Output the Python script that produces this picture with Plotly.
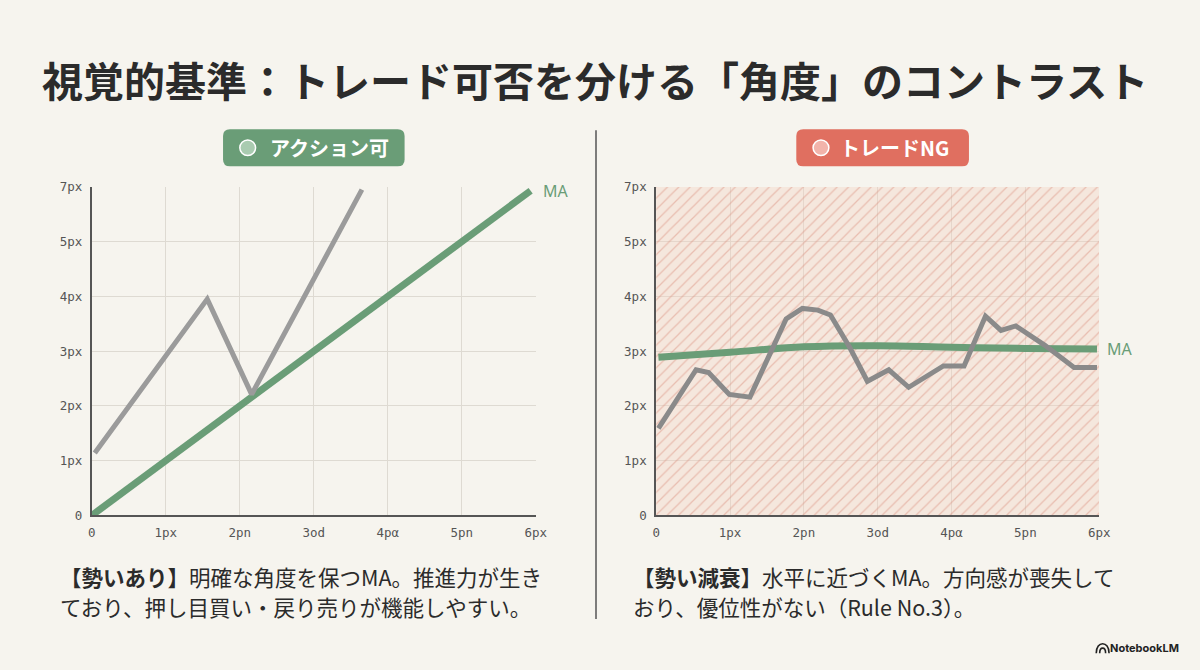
import plotly.graph_objects as go

# --- data ---
y_tick_vals = [0, 1, 2, 3, 4, 5, 6]
y_tick_text = ['0', '1px', '2px', '3px', '4px', '5px', '7px']
x_tick_vals = [0, 1, 2, 3, 4, 5, 6]
x_tick_text = ['0', '1px', '2pn', '3od', '4pα', '5pn', '6px']

left_price_x = [0.04, 1.56, 2.16, 3.65]
left_price_y = [1.14, 3.95, 2.21, 5.95]
left_ma_x = [0.0, 5.93]
left_ma_y = [0.0, 5.93]

right_price_x = [0.03, 0.54, 0.71, 0.99, 1.27, 1.61, 1.76, 1.98, 2.19, 2.36, 2.62, 2.86,
                 3.15, 3.42, 3.89, 4.17, 4.46, 4.67, 4.87, 5.26, 5.66, 5.97]
right_price_y = [1.59, 2.66, 2.61, 2.21, 2.16, 3.14, 3.59, 3.78, 3.75, 3.66, 3.07, 2.45,
                 2.66, 2.34, 2.73, 2.73, 3.64, 3.38, 3.46, 3.11, 2.70, 2.70]
right_ma_x = [0.03, 1.0, 2.0, 3.0, 4.0, 5.0, 5.97]
right_ma_y = [2.89, 2.98, 3.08, 3.10, 3.07, 3.05, 3.04]

axis_max = 6

W, H = 1200, 670
BG = '#f6f4ee'
GREEN = '#6a9d77'
RED = '#e06f60'
INK = '#2b2b2b'
JP = 'Noto Sans CJK JP'
MONO = 'DejaVu Sans Mono'


def px(x):
    return x / W


def py(y):
    return 1 - y / H


def rounded_box(x0, y0, x1, y1, r):
    # path in paper coords, built from pixel positions
    pts = [
        f"M{px(x0 + r)},{py(y0)}",
        f"L{px(x1 - r)},{py(y0)}",
        f"Q{px(x1)},{py(y0)} {px(x1)},{py(y0 + r)}",
        f"L{px(x1)},{py(y1 - r)}",
        f"Q{px(x1)},{py(y1)} {px(x1 - r)},{py(y1)}",
        f"L{px(x0 + r)},{py(y1)}",
        f"Q{px(x0)},{py(y1)} {px(x0)},{py(y1 - r)}",
        f"L{px(x0)},{py(y0 + r)}",
        f"Q{px(x0)},{py(y0)} {px(x0 + r)},{py(y0)}",
        "Z",
    ]
    return " ".join(pts)


def arch(x0, x1, yb, yt):
    return (f"M{px(x0)},{py(yb)} C{px(x0)},{py(yt)} {px(x1)},{py(yt)} {px(x1)},{py(yb)}")


fig = go.Figure()

# right panel hatched background
fig.add_trace(go.Bar(
    x=[axis_max / 2], y=[axis_max], width=[axis_max],
    xaxis='x2', yaxis='y2',
    marker=dict(
        color='rgba(244,205,188,0.35)',
        line=dict(width=0),
        pattern=dict(shape='/', fgcolor='#dc9484', size=8, solidity=0.16,
                     bgcolor='rgba(244,205,188,0.35)'),
    ),
    hoverinfo='skip',
))

fig.add_trace(go.Scatter(x=left_ma_x, y=left_ma_y, mode='lines',
                         line=dict(color=GREEN, width=7), xaxis='x', yaxis='y'))
fig.add_trace(go.Scatter(x=left_price_x, y=left_price_y, mode='lines',
                         line=dict(color='#9b9b9b', width=5), xaxis='x', yaxis='y'))

fig.add_trace(go.Scatter(x=right_ma_x, y=right_ma_y, mode='lines',
                         line=dict(color=GREEN, width=7, shape='spline'), xaxis='x2', yaxis='y2'))
fig.add_trace(go.Scatter(x=right_price_x, y=right_price_y, mode='lines',
                         line=dict(color='#8a8a8a', width=5), xaxis='x2', yaxis='y2'))

axis_common = dict(
    range=[0, axis_max],
    showgrid=True, gridcolor='#dedad2', gridwidth=1,
    zeroline=False,
    showline=True, linecolor='#555555', linewidth=2,
    ticks='outside', tickcolor='rgba(0,0,0,0)',
    tickfont=dict(family=MONO, size=12.5, color='#555555'),
    tickmode='array', fixedrange=True,
)
xa = dict(axis_common, tickvals=x_tick_vals, ticktext=x_tick_text, ticklen=5)
ya = dict(axis_common, tickvals=y_tick_vals, ticktext=y_tick_text, ticklen=5)

y_dom = [py(519), py(183)]

fig.update_layout(
    autosize=True,
    paper_bgcolor=BG, plot_bgcolor=BG,
    margin=dict(l=0, r=0, t=0, b=0),
    showlegend=False,
    xaxis=dict(xa, domain=[px(89), px(539)], anchor='y'),
    yaxis=dict(ya, domain=y_dom, anchor='x'),
    xaxis2=dict(xa, domain=[px(661), px(1110)], anchor='y2'),
    yaxis2=dict(ya, domain=y_dom, anchor='x2'),
    bargap=0,
)

shapes = [
    dict(type='line', xref='paper', yref='paper', x0=px(600), x1=px(600), y0=py(125), y1=py(625),
         line=dict(color='#555555', width=1.5)),
    dict(type='path', xref='paper', yref='paper', path=rounded_box(222, 124, 406, 162, 7),
         fillcolor=GREEN, line=dict(width=0)),
    dict(type='path', xref='paper', yref='paper', path=rounded_box(803, 124, 978, 162, 7),
         fillcolor=RED, line=dict(width=0)),
    dict(type='circle', xref='paper', yref='paper', x0=px(239), x1=px(255), y0=py(151), y1=py(135),
         fillcolor='#a9cbb0', line=dict(color='white', width=1.5)),
    dict(type='circle', xref='paper', yref='paper', x0=px(820), x1=px(836), y0=py(151), y1=py(135),
         fillcolor='#f2b3aa', line=dict(color='white', width=1.5)),
    # small logo arches next to NotebookLM
    dict(type='path', xref='paper', yref='paper', path=arch(1107, 1120, 660, 647),
         line=dict(color='#222222', width=1.6)),
    dict(type='path', xref='paper', yref='paper', path=arch(1110.5, 1116.5, 660, 653),
         line=dict(color='#222222', width=1.6)),
]
fig.update_layout(shapes=shapes)

ann = [
    dict(text='<b>視覚的基準：トレード可否を分ける「角度」のコントラスト</b>',
         x=px(599), y=py(73), font=dict(family=JP, size=41, color=INK)),
    dict(text='<b>アクション可</b>', x=px(330), y=py(143),
         font=dict(family=JP, size=20, color='white')),
    dict(text='<b>トレードNG</b>', x=px(903), y=py(143),
         font=dict(family=JP, size=20, color='white')),
    dict(text='<b>【勢いあり】</b>明確な角度を保つMA。推進力が生き', x=px(55), y=py(582), xanchor='left',
         font=dict(family=JP, size=21.5, color=INK)),
    dict(text='ており、押し目買い・戻り売りが機能しやすい。', x=px(55), y=py(612), xanchor='left',
         font=dict(family=JP, size=21.5, color=INK)),
    dict(text='<b>【勢い減衰】</b>水平に近づくMA。方向感が喪失して', x=px(635), y=py(582), xanchor='left',
         font=dict(family=JP, size=21.5, color=INK)),
    dict(text='おり、優位性がない（Rule No.3）。', x=px(635), y=py(612), xanchor='left',
         font=dict(family=JP, size=21.5, color=INK)),
    dict(text='<b>NotebookLM</b>', x=px(1193), y=py(655), xanchor='right',
         font=dict(family='Inter', size=11, color='#222222')),
]
for a in ann:
    a.setdefault('xanchor', 'center')
    a.update(xref='paper', yref='paper', yanchor='middle', showarrow=False)

# MA labels at line ends
ann.append(dict(text='MA', x=left_ma_x[-1], y=left_ma_y[-1], xref='x', yref='y',
                xanchor='left', yanchor='middle', xshift=10, showarrow=False,
                font=dict(family='Noto Sans', size=16, color=GREEN)))
ann.append(dict(text='MA', x=right_ma_x[-1], y=right_ma_y[-1], xref='x2', yref='y2',
                xanchor='left', yanchor='middle', xshift=8, showarrow=False,
                font=dict(family='Noto Sans', size=16, color=GREEN)))
fig.update_layout(annotations=ann)

# fill the browser window exactly, no body margin
page_js = (
    "document.documentElement.style.margin='0';"
    "document.documentElement.style.overflow='hidden';"
    "document.body.style.margin='0';"
    "document.body.style.overflow='hidden';"
    "document.body.style.background='%s';"
    "var gd=document.getElementById('{plot_id}');"
    "gd.style.width='100vw';gd.style.height='100vh';"
    "Plotly.Plots.resize(gd);" % BG
)
fig.write_html("out.html", config={'displayModeBar': False, 'responsive': True},
               default_width='100vw', default_height='100vh', post_script=page_js)
